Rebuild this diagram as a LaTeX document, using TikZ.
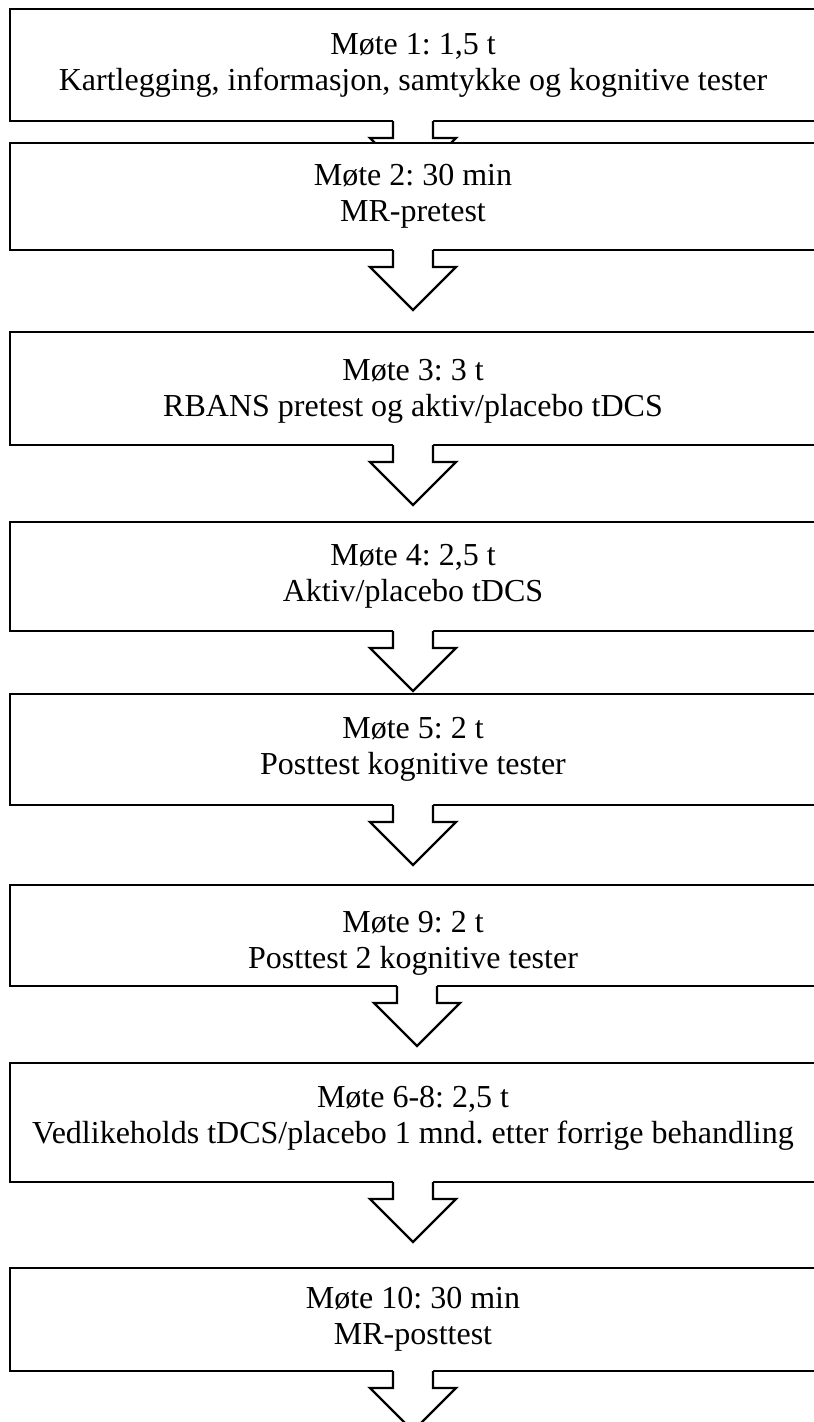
\documentclass[tikz,border=0pt]{standalone}
\usepackage{fontspec}
\setmainfont{Liberation Serif}
\frenchspacing
\tikzset{
  stepbox/.style={draw=black, line width=2.8pt, fill=white, rectangle,
    minimum width=806pt, inner sep=0pt, outer sep=0pt},
  steptext/.style={align=center, inner sep=0pt, font=\fontsize{32}{36}\selectfont\frenchspacing},
  arrowline/.style={draw=black, line width=2.4pt, line join=miter},
}
\newcommand\blkarrow[2][0]{%
  \fill[white] ([xshift=#1pt-20pt,yshift=2pt]#2.south) -- ([xshift=#1pt-20pt,yshift=-17pt]#2.south)
    -- ([xshift=#1pt-43pt,yshift=-17pt]#2.south) -- ([xshift=#1pt,yshift=-60pt]#2.south)
    -- ([xshift=#1pt+43pt,yshift=-17pt]#2.south) -- ([xshift=#1pt+20pt,yshift=-17pt]#2.south)
    -- ([xshift=#1pt+20pt,yshift=2pt]#2.south) -- cycle;
  \draw[arrowline] ([xshift=#1pt-20pt]#2.south) -- ([xshift=#1pt-20pt,yshift=-17pt]#2.south)
    -- ([xshift=#1pt-43pt,yshift=-17pt]#2.south) -- ([xshift=#1pt,yshift=-60pt]#2.south)
    -- ([xshift=#1pt+43pt,yshift=-17pt]#2.south) -- ([xshift=#1pt+20pt,yshift=-17pt]#2.south)
    -- ([xshift=#1pt+20pt]#2.south);
}
\begin{document}
\begin{tikzpicture}[x=1pt,y=-1pt]
\useasboundingbox (0,0) rectangle (814,1422);
\clip (0,0) rectangle (814,1422);
\fill[white] (0,0) rectangle (814,1422);

\node[stepbox, minimum height=112pt] (b1) at (413,65) {};
\node[steptext] (t1) at (b1.center) {Møte 1: 1,5 t\\Kartlegging, informasjon, samtykke og kognitive tester};
\blkarrow{b1}
\node[stepbox, minimum height=107pt] (b2) at (413,196.5) {};
\node[steptext] (t2) at (b2.center) {Møte 2: 30 min\\MR-pretest};
\blkarrow{b2}
\node[stepbox, minimum height=113pt] (b3) at (413,388.5) {};
\node[steptext] (t3) at ([yshift=-3pt]b3.center) {Møte 3: 3 t\\RBANS pretest og aktiv/placebo tDCS};
\blkarrow{b3}
\node[stepbox, minimum height=109pt] (b4) at (413,576.5) {};
\node[steptext] (t4) at (b4.center) {Møte 4: 2,5 t\\Aktiv/placebo tDCS};
\blkarrow{b4}
\node[stepbox, minimum height=111pt] (b5) at (413,749.5) {};
\node[steptext] (t5) at (b5.center) {Møte 5: 2 t\\Posttest kognitive tester};
\blkarrow{b5}
\node[stepbox, minimum height=101pt] (b6) at (413,935.5) {};
\node[steptext] (t6) at ([yshift=-8pt]b6.center) {Møte 9: 2 t\\Posttest 2 kognitive tester};
\blkarrow[4]{b6}
\node[stepbox, minimum height=119pt] (b7) at (413,1122.5) {};
\node[steptext] (t7) at ([yshift=4pt]b7.center) {Møte 6-8: 2,5 t\\Vedlikeholds tDCS/placebo 1 mnd. etter forrige behandling};
\blkarrow{b7}
\node[stepbox, minimum height=103pt] (b8) at (413,1319.5) {};
\node[steptext] (t8) at (b8.center) {Møte 10: 30 min\\MR-posttest};
\blkarrow{b8}
\end{tikzpicture}
\end{document}
